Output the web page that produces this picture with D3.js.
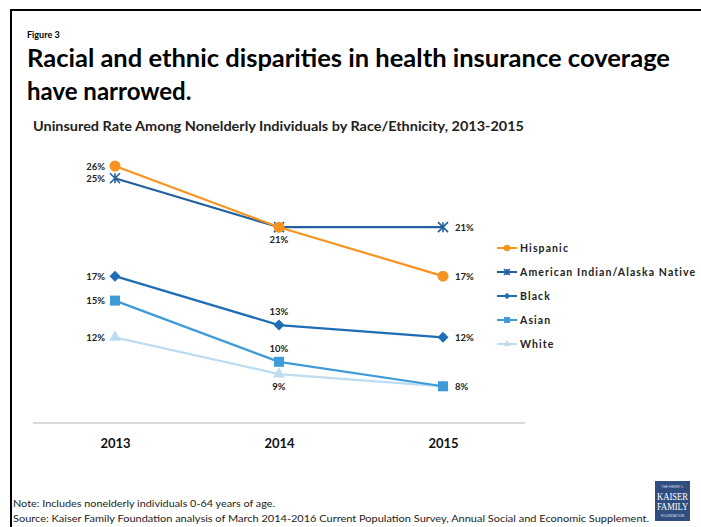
<!DOCTYPE html>
<html>
<head>
<meta charset="utf-8">
<script src="https://cdn.jsdelivr.net/npm/d3@7/dist/d3.min.js"></script>
<style>
  html, body { margin: 0; padding: 0; background: #fff; }
  svg { display: block; font-family: Lato, "Open Sans", sans-serif; }
</style>
</head>
<body>
<svg id="chart" width="701" height="527"></svg>
<script>

var years = [ '2013', '2014', '2015' ];

var series_names = [ 'Hispanic', 'American Indian/Alaska Native', 'Black', 'Asian', 'White' ];
var hispanic = [ 26, 21, 17 ];
var native_am = [ 25, 21, 21 ];
var black = [ 17, 13, 12 ];
var asian = [ 15, 10, 8 ];
var white = [ 12, 9, 8 ];

// where the middle-year label sits: above or below the point
var mid_label_side = [ 'below', 'skip', 'above', 'above', 'below' ];

var colors = [ '#f7931e', '#22609f', '#1f6db5', '#3f9ad8', '#bcdcf1' ];
var markers = [ 'circle', 'asterisk', 'diamond', 'square', 'triangle' ];

var svg = d3.select( '#chart' );

// frame
svg.append( 'path' )
    .attr( 'd', 'M11,527 V10 H701' )
    .attr( 'fill', 'none' )
    .attr( 'stroke', '#000' )
    .attr( 'stroke-width', 2 );

svg.append( 'text' )
    .attr( 'x', 27 ).attr( 'y', 38 )
    .attr( 'font-size', 9 ).attr( 'font-weight', 700 )
    .text( 'Figure 3' );

svg.append( 'text' )
    .attr( 'x', 27 ).attr( 'y', 67 )
    .attr( 'font-size', 24 ).attr( 'font-weight', 700 )
    .attr( 'textLength', 643 ).attr( 'lengthAdjust', 'spacingAndGlyphs' )
    .text( 'Racial and ethnic disparities in health insurance coverage' );

svg.append( 'text' )
    .attr( 'x', 27 ).attr( 'y', 100 )
    .attr( 'font-size', 24 ).attr( 'font-weight', 700 )
    .text( 'have narrowed.' );

svg.append( 'text' )
    .attr( 'x', 33 ).attr( 'y', 131 )
    .attr( 'font-size', 12.5 ).attr( 'font-weight', 700 )
    .attr( 'fill', '#222' )
    .attr( 'textLength', 491 ).attr( 'lengthAdjust', 'spacingAndGlyphs' )
    .text( 'Uninsured Rate Among Nonelderly Individuals by Race/Ethnicity, 2013-2015' );

// scales
var x = d3.scalePoint().domain( years ).range( [ 115, 443 ] );
var y = d3.scaleLinear().domain( [ 5, 26 ] ).range( [ 423, 166 ] );

// x axis
var x_axis = svg.append( 'g' )
    .attr( 'transform', 'translate(0,' + y( 5 ) + ')' )
    .call( d3.axisBottom( x ).tickSize( 0 ).tickPadding( 16 ) );
x_axis.select( '.domain' )
    .attr( 'd', 'M33,0H525' )
    .attr( 'stroke', '#d9d9d9' )
    .attr( 'stroke-width', 2 );
x_axis.selectAll( 'text' )
    .attr( 'font-family', 'Lato, "Open Sans", sans-serif' )
    .attr( 'font-size', 13 )
    .attr( 'font-weight', 700 )
    .attr( 'fill', '#111' );

var all_series = [ hispanic, native_am, black, asian, white ];

var line = d3.line()
    .x( function ( d, i ) { return x( years[ i ] ); } )
    .y( function ( d ) { return y( d ); } );

function draw_marker ( g, type, color, cx, cy, s ) {
    if ( type === 'circle' ) {
        g.append( 'circle' ).attr( 'cx', cx ).attr( 'cy', cy ).attr( 'r', 5.5 * s ).attr( 'fill', color );
    } else if ( type === 'diamond' ) {
        var d = 5.5 * s;
        g.append( 'path' )
            .attr( 'd', 'M' + cx + ',' + ( cy - d ) + 'L' + ( cx + d ) + ',' + cy +
                'L' + cx + ',' + ( cy + d ) + 'L' + ( cx - d ) + ',' + cy + 'Z' )
            .attr( 'fill', color );
    } else if ( type === 'square' ) {
        var h = 5 * s;
        g.append( 'rect' ).attr( 'x', cx - h ).attr( 'y', cy - h )
            .attr( 'width', 2 * h ).attr( 'height', 2 * h ).attr( 'fill', color );
    } else if ( type === 'triangle' ) {
        g.append( 'path' )
            .attr( 'd', d3.symbol().type( d3.symbolTriangle ).size( 60 * s * s )() )
            .attr( 'transform', 'translate(' + cx + ',' + cy + ')' )
            .attr( 'fill', color );
    } else if ( type === 'asterisk' ) {
        var r = 5 * s;
        g.append( 'path' )
            .attr( 'd', 'M' + ( cx - r ) + ',' + ( cy - r ) + 'L' + ( cx + r ) + ',' + ( cy + r ) +
                'M' + ( cx - r ) + ',' + ( cy + r ) + 'L' + ( cx + r ) + ',' + ( cy - r ) +
                'M' + cx + ',' + ( cy - r ) + 'L' + cx + ',' + ( cy + r ) )
            .attr( 'stroke', color )
            .attr( 'stroke-width', 1.6 )
            .attr( 'fill', 'none' );
    }
}

var plot = svg.append( 'g' );

// draw from the back (White) to the front (Hispanic)
for ( var k = all_series.length - 1; k >= 0; k-- ) {
    var vals = all_series[ k ];
    plot.append( 'path' )
        .datum( vals )
        .attr( 'd', line )
        .attr( 'fill', 'none' )
        .attr( 'stroke', colors[ k ] )
        .attr( 'stroke-width', 2.2 );
    vals.forEach( function ( v, i ) {
        draw_marker( plot, markers[ k ], colors[ k ], x( years[ i ] ), y( v ), 1 );
    } );
}

// data labels
var labels = svg.append( 'g' )
    .attr( 'font-size', 9.5 )
    .attr( 'font-weight', 700 )
    .attr( 'fill', '#222' );

all_series.forEach( function ( vals, k ) {
    // first year: left of the point
    labels.append( 'text' )
        .attr( 'x', x( years[ 0 ] ) - 10 ).attr( 'y', y( vals[ 0 ] ) + 3.5 )
        .attr( 'text-anchor', 'end' )
        .text( vals[ 0 ] + '%' );
    // middle year
    var side = mid_label_side[ k ];
    if ( side !== 'skip' ) {
        labels.append( 'text' )
            .attr( 'x', x( years[ 1 ] ) )
            .attr( 'y', side === 'above' ? y( vals[ 1 ] ) - 10 : y( vals[ 1 ] ) + 16 )
            .attr( 'text-anchor', 'middle' )
            .text( vals[ 1 ] + '%' );
    }
    // last year: right of the point (White shares the 8% with Asian)
    if ( k !== 4 ) {
        labels.append( 'text' )
            .attr( 'x', x( years[ 2 ] ) + 12 ).attr( 'y', y( vals[ 2 ] ) + 3.5 )
            .attr( 'text-anchor', 'start' )
            .text( vals[ 2 ] + '%' );
    }
} );

// legend
var legend = svg.append( 'g' ).attr( 'transform', 'translate(497,248)' );
series_names.forEach( function ( name, k ) {
    var row = legend.append( 'g' ).attr( 'transform', 'translate(0,' + ( k * 24 ) + ')' );
    row.append( 'line' )
        .attr( 'x1', 0 ).attr( 'x2', 20 )
        .attr( 'stroke', colors[ k ] ).attr( 'stroke-width', 2 );
    draw_marker( row, markers[ k ], colors[ k ], 10, 0, 0.6 );
    row.append( 'text' )
        .attr( 'x', 23 ).attr( 'y', 4 )
        .attr( 'font-size', 10.5 ).attr( 'font-weight', 700 )
        .attr( 'letter-spacing', 1.1 )
        .attr( 'fill', '#222' )
        .text( name );
} );

// notes
svg.append( 'text' )
    .attr( 'x', 13 ).attr( 'y', 507 )
    .attr( 'font-size', 10 ).attr( 'fill', '#222' )
    .attr( 'textLength', 262 ).attr( 'lengthAdjust', 'spacingAndGlyphs' )
    .text( 'Note: Includes nonelderly individuals 0-64 years of age.' );

svg.append( 'text' )
    .attr( 'x', 13 ).attr( 'y', 522 )
    .attr( 'font-size', 10 ).attr( 'fill', '#222' )
    .attr( 'textLength', 636 ).attr( 'lengthAdjust', 'spacingAndGlyphs' )
    .text( 'Source: Kaiser Family Foundation analysis of March 2014-2016 Current Population Survey, Annual Social and Economic Supplement.' );

// logo
var logo = svg.append( 'g' ).attr( 'transform', 'translate(655,481)' );
logo.append( 'rect' ).attr( 'width', 35 ).attr( 'height', 40 ).attr( 'fill', '#2f4d7e' );
logo.append( 'text' ).attr( 'x', 17.5 ).attr( 'y', 7 ).attr( 'text-anchor', 'middle' )
    .attr( 'font-size', 3.5 ).attr( 'fill', '#dde' ).text( 'THE HENRY J.' );
logo.append( 'text' ).attr( 'x', 17.5 ).attr( 'y', 19 ).attr( 'text-anchor', 'middle' )
    .attr( 'font-family', '"Liberation Serif", serif' )
    .attr( 'font-size', 10 ).attr( 'fill', '#fff' )
    .attr( 'textLength', 31 ).attr( 'lengthAdjust', 'spacingAndGlyphs' ).text( 'KAISER' );
logo.append( 'text' ).attr( 'x', 17.5 ).attr( 'y', 29 ).attr( 'text-anchor', 'middle' )
    .attr( 'font-family', '"Liberation Serif", serif' )
    .attr( 'font-size', 10 ).attr( 'fill', '#fff' )
    .attr( 'textLength', 31 ).attr( 'lengthAdjust', 'spacingAndGlyphs' ).text( 'FAMILY' );
logo.append( 'text' ).attr( 'x', 17.5 ).attr( 'y', 36 ).attr( 'text-anchor', 'middle' )
    .attr( 'font-size', 3.5 ).attr( 'fill', '#dde' ).text( 'FOUNDATION' );

</script>
</body>
</html>
